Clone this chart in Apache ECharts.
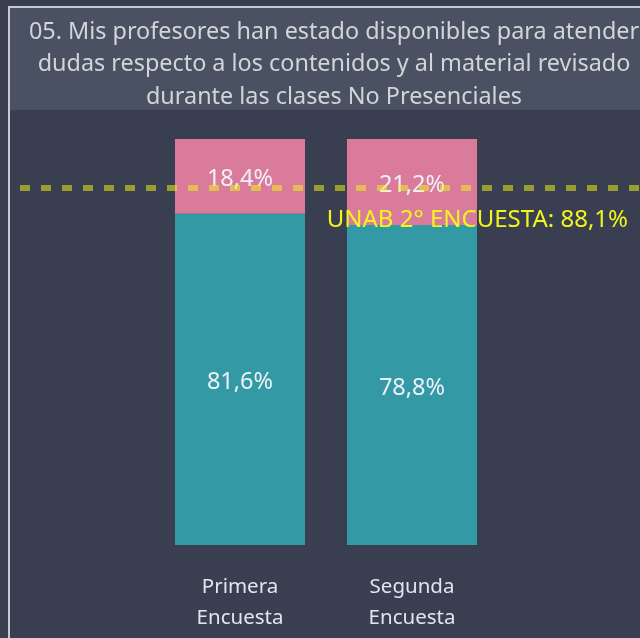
<!DOCTYPE html>
<html>
<head>
<meta charset="utf-8">
<script src="https://cdn.jsdelivr.net/npm/echarts@6/dist/echarts.min.js"></script>
<style>
  html, body { margin: 0; padding: 0; background: #393e50; }
  #chart { width: 640px; height: 638px; }
</style>
</head>
<body>
<div id="chart"></div>
<script>
// datos
var categorias = ['Primera\nEncuesta', 'Segunda\nEncuesta'];
var si = [81.6, 78.8];
var no = [18.4, 21.2];
var metaNombre = 'UNAB 2° ENCUESTA';
var metaValor = 88.1;
var tituloLineas = [
    '05. Mis profesores han estado disponibles para atender',
    'dudas respecto a los contenidos y al material revisado',
    'durante las clases No Presenciales'
];

var fuente = 'Noto Sans';
function pct(v){
    return v.toFixed(1).replace('.', ',') + '%';
}

var chart = echarts.init(document.getElementById('chart'));
chart.setOption({
    backgroundColor: '#393e50',
    animation: false,
    title: {
        text: tituloLineas.join('\n'),
        left: 329,
        top: 11,
        textAlign: 'center',
        textStyle: {
            fontFamily: fuente,
            fontWeight: 'normal',
            fontSize: 23.4,
            lineHeight: 32.5,
            color: '#d2d4d9'
        }
    },
    graphic: [
        {type: 'rect', z: -10, shape: {x: 10, y: 8, width: 640, height: 102}, style: {fill: '#4a5162'}},
        {type: 'rect', z: -9, shape: {x: 9, y: 7, width: 660, height: 660}, style: {fill: 'none', stroke: '#c6cad2', lineWidth: 2}}
    ],
    grid: [
        {left: 154, right: 142, top: 139, bottom: 93},
        {left: 20, right: 0, top: 139, bottom: 93}
    ],
    xAxis: [
        {
            type: 'category',
            gridIndex: 0,
            data: categorias,
            axisLine: {show: false},
            axisTick: {show: false},
            axisLabel: {
                margin: 27,
                fontFamily: fuente,
                fontSize: 20.5,
                lineHeight: 31,
                color: '#e2e5ee'
            }
        },
        {type: 'category', gridIndex: 1, data: [''], show: false}
    ],
    yAxis: [
        {type: 'value', gridIndex: 0, min: 0, max: 100, show: false},
        {type: 'value', gridIndex: 1, min: 0, max: 100, show: false}
    ],
    series: [
        {
            name: 'Si',
            type: 'bar',
            stack: 'total',
            barWidth: 130,
            data: si,
            itemStyle: {color: '#339aa5'},
            label: {
                show: true,
                position: 'inside',
                offset: [0, 3],
                formatter: function(p){ return pct(p.value); },
                fontFamily: fuente,
                fontSize: 23.5,
                color: '#eef0f8'
            }
        },
        {
            name: 'No',
            type: 'bar',
            stack: 'total',
            barWidth: 130,
            data: no,
            itemStyle: {color: '#da7b9c'},
            label: {
                show: true,
                position: 'inside',
                offset: [0, 3],
                formatter: function(p){ return pct(p.value); },
                fontFamily: fuente,
                fontSize: 23.5,
                color: '#eef0f8'
            }
        },
        {
            name: 'meta',
            type: 'line',
            xAxisIndex: 1,
            yAxisIndex: 1,
            data: [null],
            symbol: 'none',
            z: 5,
            markLine: {
                silent: true,
                symbol: ['none', 'none'],
                lineStyle: {
                    color: 'rgba(240,248,20,0.52)',
                    width: 6,
                    type: [10, 11]
                },
                label: {
                    show: true,
                    position: 'insideEndBottom',
                    distance: [12, 21],
                    formatter: metaNombre + ': ' + pct(metaValor),
                    fontFamily: fuente,
                    fontSize: 24,
                    color: '#f2f51e'
                },
                data: [{yAxis: metaValor}]
            }
        }
    ]
});
</script>
</body>
</html>
